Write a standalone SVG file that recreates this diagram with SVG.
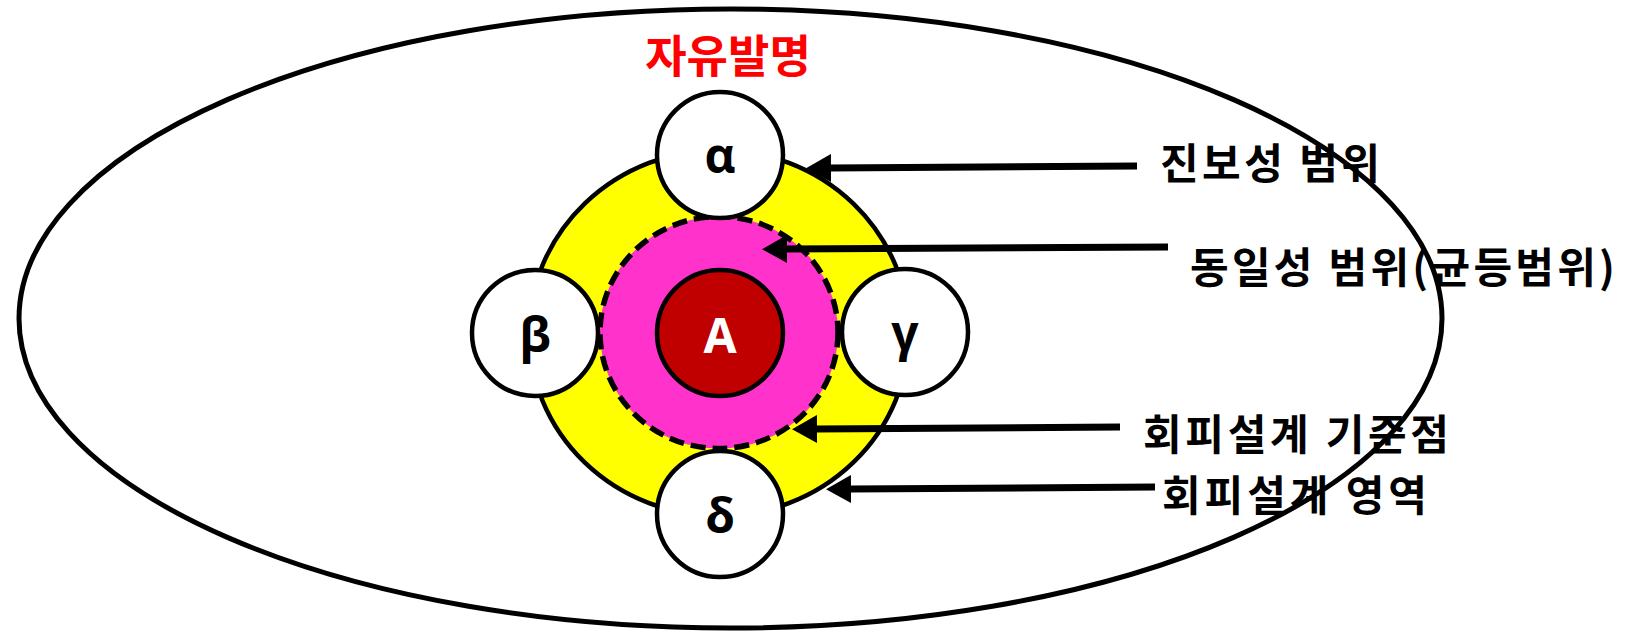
<svg xmlns="http://www.w3.org/2000/svg" width="1634" height="636" viewBox="0 0 1634 636">
<style>
.sat{fill:#fff;stroke:#000;stroke-width:4.5}
.gk{font-family:"Open Sans","DejaVu Sans",sans-serif;font-weight:bold;font-size:48px;text-anchor:middle;fill:#000}
.lbl{font-family:"Noto Sans CJK KR","Noto Sans",sans-serif;font-weight:bold;font-size:42px;fill:#000}
.arr{stroke:#000;stroke-width:7;fill:none;marker-end:url(#ah)}
</style>
<defs>
<marker id="ah" markerUnits="userSpaceOnUse" markerWidth="26" markerHeight="28" refX="1" refY="14" orient="auto">
<path d="M0,0 L25,14 L0,28 Z" fill="#000"/>
</marker>
</defs>
<rect width="1634" height="636" fill="#fff"/>
<g id="outer">
<ellipse cx="730.5" cy="318.5" rx="711.5" ry="309.5" fill="#fff" stroke="#000" stroke-width="5"/>
<text x="728" y="73" class="lbl" style="fill:#FF0000;font-size:45px" text-anchor="middle">자유발명</text>
</g>
<g id="yellow">
<ellipse cx="719" cy="333" rx="190" ry="183" fill="#FFFF00" stroke="#000" stroke-width="4.5"/>
</g>
<g id="pink">
<ellipse cx="719" cy="332.5" rx="119" ry="116" fill="#FF33CC" stroke="#000" stroke-width="5.5" stroke-dasharray="15 7"/>
</g>
<g id="A">
<circle cx="720" cy="333" r="63" fill="#C00000" stroke="#000" stroke-width="4.5"/>
<text x="720" y="353" class="gk" style="fill:#fff">A</text>
</g>
<g id="alpha">
<circle cx="720" cy="155" r="63" class="sat"/>
<text x="720" y="173" class="gk">α</text>
</g>
<g id="beta">
<circle cx="535" cy="333" r="63" class="sat"/>
<text x="535" y="352" class="gk">β</text>
</g>
<g id="gamma">
<circle cx="905" cy="332" r="63" class="sat"/>
<text x="905" y="350" class="gk">γ</text>
</g>
<g id="delta">
<circle cx="720" cy="514" r="63" class="sat"/>
<text x="720" y="533" class="gk">δ</text>
</g>
<g id="connectors">
<line x1="1137" y1="166" x2="830" y2="168" class="arr"/>
<line x1="1168" y1="247" x2="786" y2="249" class="arr"/>
<line x1="1120" y1="427" x2="816" y2="429" class="arr"/>
<line x1="1155" y1="487" x2="850" y2="489" class="arr"/>
</g>
<g id="labels">
<text x="1160" y="179" class="lbl" textLength="220" lengthAdjust="spacing">진보성 범위</text>
<text x="1190" y="283" class="lbl" textLength="425" lengthAdjust="spacing">동일성 범위(균등범위)</text>
<text x="1143" y="450" class="lbl" textLength="306" lengthAdjust="spacing">회피설계 기준점</text>
<text x="1162" y="511" class="lbl" textLength="265" lengthAdjust="spacing">회피설계 영역</text>
</g>
</svg>
